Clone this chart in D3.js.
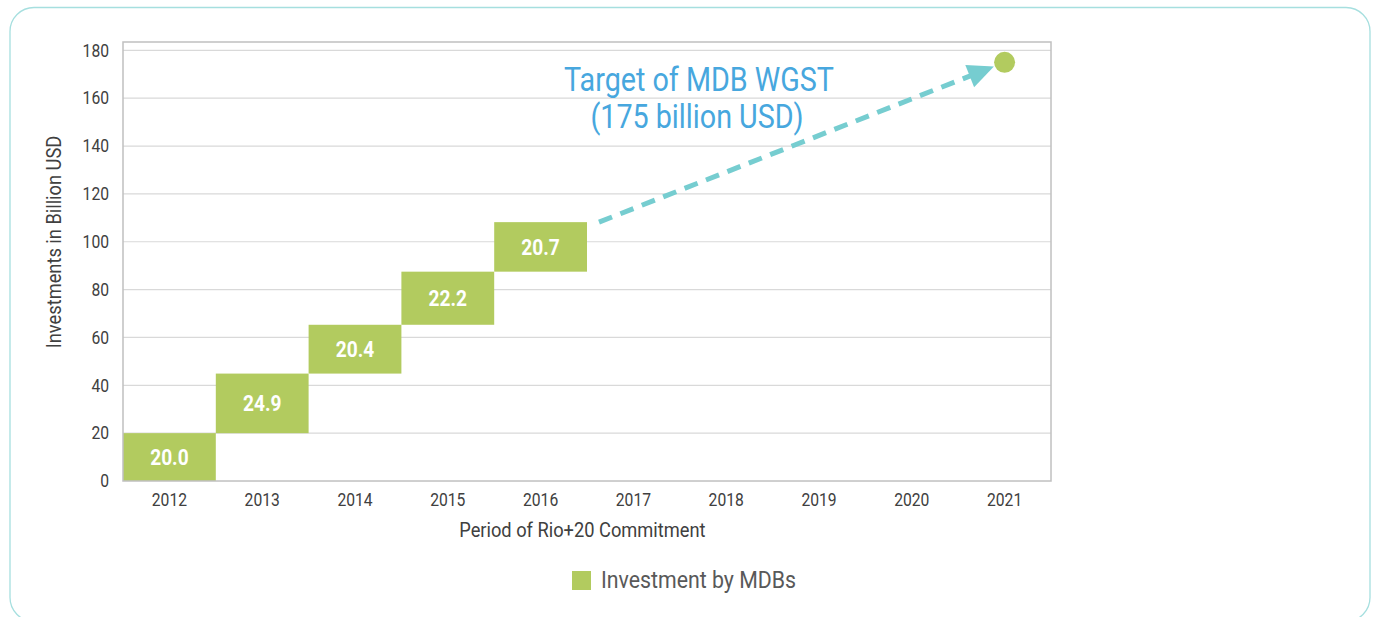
<!DOCTYPE html>
<html>
<head>
<meta charset="utf-8">
<script src="https://cdn.jsdelivr.net/npm/d3@7"></script>
<style>
  html, body { margin: 0; padding: 0; background: #fff; }
  svg { display: block; font-family: Roboto, "Noto Sans", sans-serif; }
</style>
</head>
<body>
<svg id="chart" width="1375" height="617"></svg>
<script>
// Yearly MDB investment toward the Rio+20 commitment (billion USD)
const years = ["2012", "2013", "2014", "2015", "2016", "2017", "2018", "2019", "2020", "2021"];
const investedYears = ["2012", "2013", "2014", "2015", "2016"];
const investedValues = [20.0, 24.9, 20.4, 22.2, 20.7];
const yTicks = [0, 20, 40, 60, 80, 100, 120, 140, 160, 180];
const targetYear = "2021";
const targetValue = 175;
const seriesName = "Investment by MDBs";
const targetLines = ["Target of MDB WGST", "(175 billion USD)"];
const yTitle = "Investments in Billion USD";
const xTitle = "Period of Rio+20 Commitment";

const W = 1375, H = 617;
const SX = 0.87; // narrow type
const margin = { left: 123, right: 324, top: 42, bottom: 136 };
const plotW = W - margin.left - margin.right;
const plotH = H - margin.top - margin.bottom;

const green = "#b2cb5f", teal = "#76cdd0", blue = "#47a7de";
const axisText = "#404040";

const svg = d3.select("#chart");

// rounded frame
svg.append("rect")
  .attr("x", 10).attr("y", 7.5)
  .attr("width", 1360).attr("height", 614)
  .attr("rx", 24).attr("ry", 24)
  .attr("fill", "none").attr("stroke", "#a6dfdf").attr("stroke-width", 1.3);

const g = svg.append("g").attr("transform", `translate(${margin.left},${margin.top})`);

const x = d3.scaleBand().domain(years).range([0, plotW]).padding(0);
const y = d3.scaleLinear().domain([0, 183.5]).range([plotH, 0]);

// gridlines
g.append("g").selectAll("line").data(yTicks.filter(d => d > 0)).join("line")
  .attr("x1", 0).attr("x2", plotW)
  .attr("y1", d => y(d)).attr("y2", d => y(d))
  .attr("stroke", "#d9d9d9").attr("stroke-width", 1.2);

// stacked (waterfall) bars
let running = 0;
const steps = investedValues.map((v, i) => {
  const s = { year: investedYears[i], v, base: running, top: running + v };
  running += v;
  return s;
});

g.append("g").selectAll("rect").data(steps).join("rect")
  .attr("x", d => x(d.year))
  .attr("width", x.bandwidth())
  .attr("y", d => y(d.top))
  .attr("height", d => y(d.base) - y(d.top))
  .attr("fill", green);

g.append("g").selectAll("text").data(steps).join("text")
  .attr("transform", d => `translate(${x(d.year) + x.bandwidth() / 2},${(y(d.top) + y(d.base)) / 2}) scale(${SX},1)`)
  .attr("text-anchor", "middle").attr("dy", "0.36em")
  .attr("font-size", 22).attr("font-weight", 700).attr("fill", "#fff")
  .text(d => d.v.toFixed(1));

// plot frame
g.append("rect")
  .attr("x", 0).attr("y", 0).attr("width", plotW).attr("height", plotH)
  .attr("fill", "none").attr("stroke", "#c0c0c0").attr("stroke-width", 1.5);

// axes
const yAxis = g.append("g").call(d3.axisLeft(y).tickValues(yTicks).tickSize(0).tickPadding(0));
yAxis.select(".domain").remove();
yAxis.selectAll("text")
  .attr("x", null)
  .attr("transform", `translate(-14,0) scale(${SX},1)`)
  .attr("font-size", 18).attr("font-family", "Roboto").attr("fill", axisText);

const xAxis = g.append("g").attr("transform", `translate(0,${plotH})`)
  .call(d3.axisBottom(x).tickSize(0).tickPadding(0));
xAxis.select(".domain").remove();
xAxis.selectAll("text")
  .attr("y", null).attr("dy", null)
  .attr("transform", `translate(0,25) scale(${SX},1)`)
  .attr("font-size", 18).attr("font-family", "Roboto").attr("fill", axisText);

// axis titles
svg.append("text")
  .attr("transform", `translate(61,242) rotate(-90) scale(${SX},1)`)
  .attr("text-anchor", "middle")
  .attr("font-size", 21).attr("fill", axisText)
  .text(yTitle);

svg.append("text")
  .attr("transform", `translate(${margin.left + plotW * 0.495},537) scale(${SX},1)`)
  .attr("text-anchor", "middle")
  .attr("font-size", 21).attr("fill", axisText)
  .text(xTitle);

// dashed arrow toward the target
const last = steps[steps.length - 1];
const cx = x(targetYear) + x.bandwidth() / 2;
const cy = y(targetValue);
const r = 10.5;
const sx = x(last.year) + x.bandwidth() + 12;
const sy = y(last.top);
const dxv = cx - sx, dyv = cy - sy;
const len = Math.hypot(dxv, dyv);
const ux = dxv / len, uy = dyv / len;
const tipX = cx - ux * (r + 1), tipY = cy - uy * (r + 1);
const headL = 26, headW = 12;
const baseX = tipX - ux * headL, baseY = tipY - uy * headL;

g.append("line")
  .attr("x1", sx).attr("y1", sy)
  .attr("x2", baseX + ux * 4).attr("y2", baseY + uy * 4)
  .attr("stroke", teal).attr("stroke-width", 5)
  .attr("stroke-dasharray", "14 9");

g.append("path")
  .attr("d", `M${tipX},${tipY} L${baseX - uy * headW},${baseY + ux * headW} L${baseX + uy * headW},${baseY - ux * headW} Z`)
  .attr("fill", teal);

g.append("circle")
  .attr("cx", cx).attr("cy", cy).attr("r", r)
  .attr("fill", green);

// target annotation
const note = svg.append("g");
targetLines.forEach((t, i) => {
  note.append("text")
    .attr("transform", `translate(${i === 0 ? 699 : 697},${91 + i * 37}) scale(${SX},1)`)
    .attr("text-anchor", "middle")
    .attr("font-size", 33).attr("fill", blue)
    .text(t);
});

// legend
const leg = svg.append("g").attr("transform", "translate(572,571)");
leg.append("rect").attr("width", 19).attr("height", 19).attr("fill", green);
leg.append("text")
  .attr("transform", `translate(29,17) scale(${SX},1)`)
  .attr("font-size", 24.5).attr("fill", "#595959")
  .text(seriesName);
</script>
</body>
</html>
